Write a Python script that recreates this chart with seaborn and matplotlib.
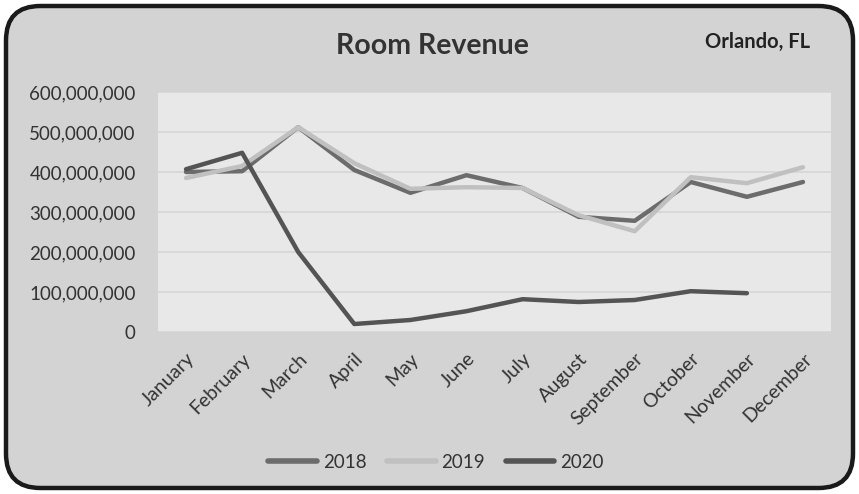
import matplotlib
matplotlib.use("Agg")
import matplotlib.pyplot as plt
from matplotlib.patches import FancyBboxPatch
from matplotlib.ticker import FuncFormatter
import numpy as np
import pandas as pd
import seaborn as sns

months = ["January", "February", "March", "April", "May", "June", "July",
          "August", "September", "October", "November", "December"]
rev_2018 = [400e6, 402e6, 512e6, 405e6, 348e6, 392e6, 360e6, 288e6, 278e6, 375e6, 338e6, 375e6]
rev_2019 = [385e6, 415e6, 512e6, 422e6, 358e6, 362e6, 360e6, 292e6, 252e6, 387e6, 372e6, 412e6]
rev_2020 = [407e6, 448e6, 200e6, 20e6, 30e6, 52e6, 82e6, 75e6, 80e6, 102e6, 97e6, np.nan]
years = ["2018", "2019", "2020"]
y_ticks = [0, 100e6, 200e6, 300e6, 400e6, 500e6, 600e6]

df = pd.DataFrame({
    "Month": months * 3,
    "Revenue": rev_2018 + rev_2019 + rev_2020,
    "Year": [y for y in years for _ in months],
})
df["Month"] = pd.Categorical(df["Month"], categories=months, ordered=True)
df["pos"] = df["Month"].cat.codes

sns.set_theme(style="white")
plt.rcParams["font.family"] = ["Lato", "DejaVu Sans"]

fig = plt.figure(figsize=(8.59, 4.94), dpi=100)
fig.patch.set_facecolor("white")

# rounded chart frame
frame = FancyBboxPatch((6 / 859, 6 / 494), 847 / 859, 482 / 494,
                       boxstyle="round,pad=0,rounding_size=0.04",
                       transform=fig.transFigure, facecolor="#d3d3d3",
                       edgecolor="#1a1a1a", linewidth=3.2, zorder=-10,
                       mutation_aspect=859 / 494)
fig.patches.append(frame)

ax = fig.add_axes([158 / 859, 1 - 332 / 494, 673 / 859, 240 / 494])
ax.set_zorder(1)
ax.set_facecolor("#e8e8e8")

palette = {"2018": "#6c6c6c", "2019": "#c0c0c0", "2020": "#545454"}
sns.lineplot(data=df, x="pos", y="Revenue", hue="Year", palette=palette,
             linewidth=3.2, ax=ax, legend=False, sort=True)
for line in ax.lines:
    line.set_solid_capstyle("round")
    line.set_solid_joinstyle("round")

ax.set_xlim(-0.5, 11.5)
ax.set_ylim(0, 600e6)
ax.set_yticks(y_ticks)
ax.yaxis.set_major_formatter(FuncFormatter(lambda v, p: f"{int(v):,}"))
ax.set_xticks(range(len(months)))
ax.set_xticklabels(months, rotation=45, ha="right", rotation_mode="anchor")
ax.grid(axis="y", color="#d5d5d5", linewidth=1.2)
ax.set_axisbelow(True)
for s in ax.spines.values():
    s.set_visible(False)
ax.tick_params(axis="y", length=0, pad=16, labelsize=13.5, labelcolor="#333333")
ax.tick_params(axis="x", length=0, pad=13, labelsize=14, labelcolor="#333333")
ax.set_xlabel("")
ax.set_ylabel("")

fig.text(432 / 859, 1 - 46 / 494, "Room Revenue", ha="center", va="center",
         fontsize=20.5, fontweight="bold", color="#333333")
fig.text(758 / 859, 1 - 42 / 494, "Orlando, FL", ha="center", va="center",
         fontsize=14.5, fontweight="bold", color="#222222")

handles = [plt.Line2D([], [], color=palette[y], linewidth=4, solid_capstyle="round")
           for y in years]
fig.legend(handles, years, loc="center", bbox_to_anchor=(436 / 859, 1 - 462 / 494),
           ncol=3, frameon=False, fontsize=13.5, handlelength=2.6,
           handletextpad=0.3, columnspacing=1.1, labelcolor="#333333")

fig.savefig("out.png", dpi=100, facecolor=fig.get_facecolor())
